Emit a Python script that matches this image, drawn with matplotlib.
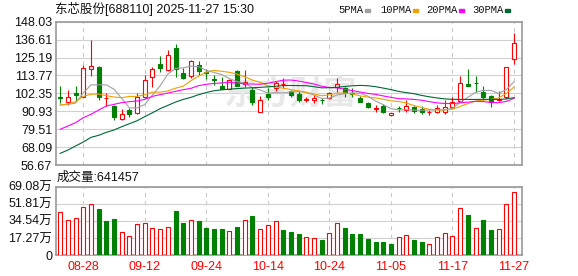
import matplotlib
matplotlib.use("Agg")
import matplotlib.pyplot as plt
from matplotlib.patches import Rectangle

plt.rcParams["font.family"] = ["Liberation Sans", "Noto Sans CJK SC"]

title = "东芯股份[688110] 2025-11-27 15:30"
volume_title = "成交量:641457"
watermark = "东方财富"

# daily candles, 60 trading days
opens = [100.0, 96.6, 102.3, 100.2, 117.6, 119.3, 99.1, 94.3, 85.8, 91.7,
         89.6, 99.8, 112.5, 121.0, 117.2, 131.2, 115.3, 113.2, 120.4, 116.2,
         111.6, 107.3, 105.3, 116.6, 108.5, 104.5, 90.2, 101.9, 106.0, 108.3,
         104.1, 102.1, 98.3, 97.9, 98.0, 99.6, 106.6, 105.8, 102.3, 99.6,
         96.4, 92.4, 94.5, 88.7, 92.9, 91.7, 93.6, 92.4, 90.2, 90.2,
         90.6, 93.4, 97.5, 108.5, 109.1, 103.4, 100.4, 98.1, 99.8, 124.3]
highs = [107.0, 104.5, 107.2, 120.2, 136.3, 119.5, 102.8, 94.7, 92.6, 92.8,
         102.8, 113.8, 119.3, 126.1, 129.8, 133.8, 118.7, 123.3, 123.1, 117.9,
         114.0, 113.0, 111.7, 117.2, 117.2, 106.6, 100.7, 105.6, 110.0, 111.9,
         104.5, 103.6, 100.2, 101.3, 99.6, 103.4, 111.9, 106.6, 105.6, 100.7,
         97.0, 94.9, 95.5, 90.0, 94.5, 98.1, 94.3, 94.3, 91.7, 94.9,
         98.1, 99.8, 113.6, 117.9, 113.4, 107.0, 101.3, 103.8, 119.2, 141.0]
lows = [96.4, 94.9, 97.5, 99.8, 113.6, 97.9, 94.3, 85.6, 85.4, 87.5,
        89.2, 99.4, 106.6, 115.7, 116.8, 113.0, 111.7, 111.9, 114.0, 111.2,
        107.7, 105.1, 105.1, 107.0, 106.6, 94.7, 90.2, 98.1, 104.1, 105.6,
        99.8, 97.0, 97.0, 96.4, 95.5, 98.7, 103.4, 100.2, 100.2, 96.6,
        92.8, 90.6, 90.0, 88.1, 90.6, 90.6, 90.0, 89.1, 88.5, 89.6,
        89.1, 92.1, 96.6, 107.2, 103.4, 98.1, 93.4, 97.7, 98.5, 121.3]
closes = [99.6, 99.8, 101.5, 118.3, 119.5, 99.8, 99.6, 87.5, 89.0, 89.4,
          99.8, 110.6, 117.6, 118.7, 126.6, 117.8, 112.3, 123.1, 116.8, 115.2,
          111.0, 105.3, 110.6, 107.2, 109.8, 97.0, 98.1, 100.2, 108.9, 108.6,
          101.3, 98.1, 98.7, 99.4, 97.8, 102.6, 108.3, 102.4, 102.0, 96.8,
          93.4, 92.7, 90.6, 89.6, 92.7, 94.0, 91.3, 90.2, 90.5, 93.2,
          93.4, 96.8, 108.7, 107.2, 108.8, 99.8, 96.6, 99.0, 119.2, 134.2]

# moving averages as drawn on the chart
ma5 = [94.9, 95.3, 96.1, 102.6, 107.74, 107.78, 107.74, 104.94, 99.08, 93.06,
       93.06, 95.26, 101.28, 107.22, 114.66, 118.26, 118.6, 119.7, 119.32, 117.04,
       115.68, 114.28, 111.78, 109.86, 108.78, 105.98, 104.54, 102.46, 102.8, 102.56,
       103.42, 103.42, 103.12, 101.22, 99.06, 99.32, 101.36, 102.1, 102.62, 102.42,
       100.58, 97.46, 95.1, 92.62, 91.8, 91.92, 91.64, 91.56, 91.74, 91.84,
       91.72, 92.82, 96.52, 99.86, 102.98, 104.26, 104.22, 102.28, 104.68, 109.76]
ma10 = [94.9, 95.6, 97.0, 100.4, 101.8, 101.9, 100.9, 100.0, 99.6, 100.4,
        100.42, 101.5, 103.11, 103.15, 103.86, 105.66, 106.93, 110.49, 113.27, 115.85,
        116.97, 116.44, 115.74, 114.59, 112.91, 110.83, 109.41, 107.12, 106.33, 105.67,
        104.7, 103.98, 102.79, 102.01, 100.81, 101.37, 102.39, 102.61, 101.92, 100.74,
        99.95, 99.41, 98.6, 97.62, 97.11, 96.25, 94.55, 93.33, 92.18, 91.82,
        91.82, 92.23, 94.04, 95.8, 97.41, 97.99, 98.52, 99.4, 102.27, 106.37]
ma20 = [79.41, 81.53, 83.66, 86.84, 88.97, 91.73, 94.28, 95.35, 96.41, 97.05,
        97.47, 98.53, 100.45, 101.51, 102.57, 103.64, 104.7, 105.55, 107.25, 108.13,
        108.7, 108.97, 109.43, 108.87, 108.39, 108.25, 108.17, 108.81, 109.8, 110.76,
        110.84, 110.21, 109.27, 108.3, 106.86, 106.1, 105.9, 104.87, 104.13, 103.21,
        102.33, 101.7, 100.7, 99.82, 98.96, 98.81, 98.47, 97.97, 97.05, 96.28,
        95.89, 95.82, 96.32, 96.71, 97.26, 97.12, 96.54, 96.37, 97.23, 99.1]
ma30 = [64.1, 66.2, 68.8, 71.3, 74.3, 75.6, 77.5, 79.0, 81.1, 83.0,
        84.9, 87.5, 90.0, 92.6, 94.7, 96.8, 98.5, 99.8, 101.5, 102.9,
        104.0, 104.6, 105.0, 105.4, 105.7, 105.9, 106.2, 106.5, 106.9, 107.31,
        107.36, 107.31, 107.21, 106.58, 105.86, 105.95, 106.24, 106.74, 107.17, 107.42,
        107.21, 106.61, 105.71, 104.74, 103.61, 102.82, 102.12, 101.02, 100.14, 99.41,
        98.82, 98.54, 98.48, 98.48, 98.44, 98.54, 98.49, 98.45, 98.79, 99.64]
ma_labels = ["5PMA", "10PMA", "20PMA", "30PMA"]
ma_colors = ["#a0a0a0", "#f0a000", "#ff00ff", "#006633"]

# volume in 万 shares, R = up day, G = down day
volume = [43.7, 35.7, 37.7, 48.7, 51.7, 47.0, 34.0, 36.0, 23.7, 19.7,
          31.0, 32.7, 27.7, 26.7, 28.7, 44.0, 32.0, 35.7, 34.7, 27.0,
          26.0, 26.0, 24.7, 28.0, 35.7, 39.0, 26.7, 30.7, 34.7, 25.7,
          23.0, 21.0, 17.7, 16.7, 15.0, 22.7, 32.7, 27.0, 21.0, 21.0,
          16.0, 13.0, 13.0, 11.0, 18.7, 20.7, 15.0, 13.0, 10.7, 17.7,
          22.7, 19.7, 47.7, 40.0, 27.7, 35.0, 25.0, 26.7, 51.7, 64.15]
volume_dir = "RRRRRGGGRRRRRRRGGRGGGGRGRGRRRGGGRRGRRGGGGGGGRRGGRRRRRGRGGRRR"

price_ticks = [56.67, 68.09, 79.51, 90.93, 102.35, 113.77, 125.19, 136.61, 148.03]
volume_ticks = [0, 17.27, 34.54, 51.81, 69.08]
volume_tick_labels = ["0", "17.27万", "34.54万", "51.81万", "69.08万"]
date_pos = [3, 11, 19, 27, 35, 43, 51, 59]
date_labels = ["08-28", "09-12", "09-24", "10-14", "10-24", "11-05", "11-17", "11-27"]

RED = "#ff0000"
GREEN = "#008000"
W, H = 578, 276

fig = plt.figure(figsize=(W / 100, H / 100), dpi=100)
ax = fig.add_axes([55.7 / W, 1 - 165 / H, 466.3 / W, 143.3 / H])
axv = fig.add_axes([55.7 / W, 1 - 255 / H, 466.3 / W, 68.3 / H])

x = list(range(len(closes)))

# candles
for i in x:
    o, c = opens[i], closes[i]
    up = c >= o
    col = RED if up else GREEN
    ax.vlines(i, lows[i], highs[i], color=col, lw=0.8, zorder=2)
    ax.bar(i, max(abs(c - o), 0.3), bottom=min(o, c), width=0.52,
           facecolor="white" if up else GREEN, edgecolor=col,
           linewidth=0.8, zorder=3)

for ma, col in zip([ma5, ma10, ma20, ma30], ma_colors):
    ax.plot(x, ma, color=col, lw=0.8, zorder=4)

ax.text(29.9, 101.3, watermark, fontsize=24, color="#e8e8e8",
        ha="center", va="center", fontweight="bold", zorder=1,
        family=["Noto Sans CJK SC"])

# volume bars
vol_edge = [RED if d == "R" else GREEN for d in volume_dir]
vol_face = ["white" if d == "R" else GREEN for d in volume_dir]
axv.bar(x, volume, width=0.52, color=vol_face, edgecolor=vol_edge,
        linewidth=0.8, zorder=3)

for a in (ax, axv):
    a.set_xlim(-0.585, 60.04)
    a.set_xticks(date_pos)
    a.set_axisbelow(True)
    a.yaxis.grid(True, color="#d0d0d0", lw=0.8)
    a.xaxis.grid(True, color="#c8c8c8", lw=0.75, linestyle=(0, (4, 4)))
    a.tick_params(length=0, labelsize=9, colors="#111111", pad=2.5)
    for s in a.spines.values():
        s.set_color("#999999")
        s.set_linewidth(1.2)

ax.set_ylim(price_ticks[0], price_ticks[-1])
ax.set_yticks(price_ticks)
ax.set_yticklabels([f"{t:.2f}" for t in price_ticks])
ax.set_xticklabels([])

axv.set_ylim(volume_ticks[0], volume_ticks[-1])
axv.set_yticks(volume_ticks)
axv.set_yticklabels(volume_tick_labels)
axv.set_xticklabels(date_labels, color=RED)
axv.tick_params(axis="x", pad=4)

fig.text(55 / W, 1 - 9 / H, title, fontsize=9, va="center", color="#111111")
fig.text(57 / W, 1 - 177.5 / H, volume_title, fontsize=9, va="center", color="#111111")

# legend row
for lab, col, lx, dx in zip(ma_labels, ma_colors, [338, 380, 426, 472], [365, 413, 459, 505]):
    fig.text(lx / W, 1 - 10 / H, lab, fontsize=7.6, va="center",
             family=["Liberation Mono"], color="#111111")
    fig.add_artist(Rectangle((dx / W, 1 - 12 / H), 5 / W, 3 / H,
                             transform=fig.transFigure, color=col))

fig.savefig("out.png", dpi=100)
